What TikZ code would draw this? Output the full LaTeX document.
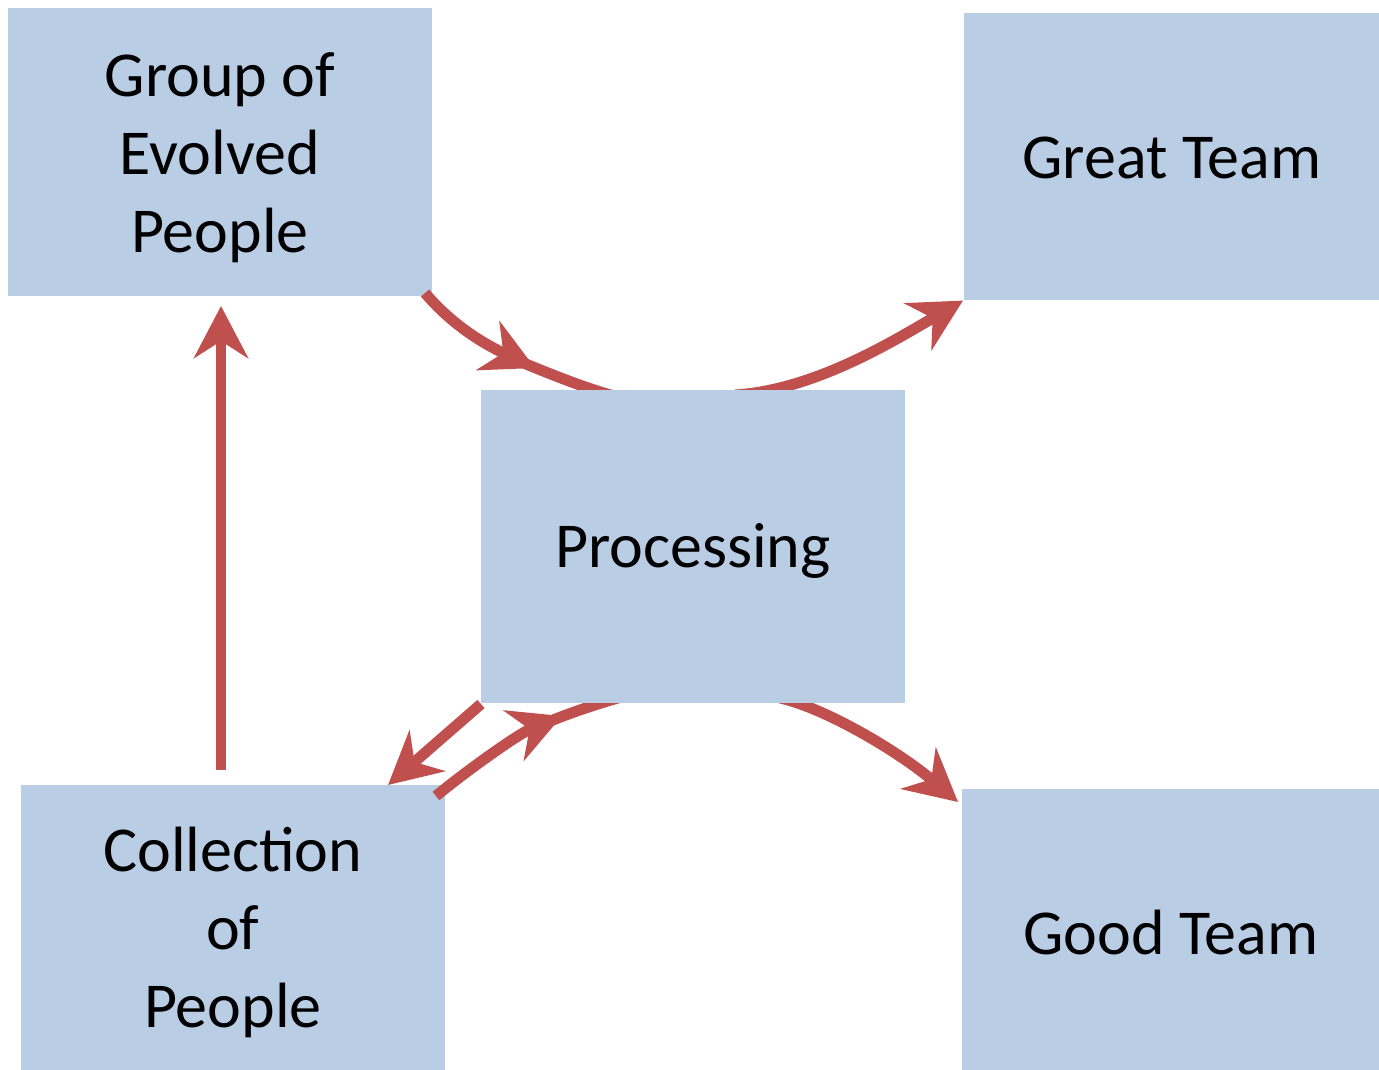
\documentclass[tikz,border=0pt]{standalone}
\usepackage{fontspec}
\setmainfont{Carlito}
\usetikzlibrary{arrows.meta}
\definecolor{boxblue}{HTML}{B9CDE5}
\definecolor{flowred}{HTML}{C0504D}
\pgfdeclarelayer{front}
\pgfsetlayers{main,front}
% invisible strut that pushes a label a little lower in its box
\newcommand\lowerby[1]{\rule{0pt}{#1}}
\begin{document}
\begin{tikzpicture}[x=0.01cm,y=-0.01cm,
  stage/.style={fill=boxblue, draw=none, anchor=north west, inner sep=0pt,
    align=center, font=\fontsize{18.2}{22.2}\selectfont},
  flow/.style={draw=flowred, line width=3.1pt},
  tip/.style={-{Stealth[length=0.52cm,width=0.54cm,inset=0.17cm]}}]
\useasboundingbox (0,0) rectangle (1379,1070);

% stage boxes
\node[stage, minimum width=4.24cm, minimum height=2.88cm] (grp) at (7,7) {\lowerby{0.56cm}Group of\\Evolved\\People};
\node[stage, minimum width=4.16cm, minimum height=2.87cm] (great) at (963,12) {\lowerby{0.44cm}Great Team};
\node[stage, minimum width=4.24cm, minimum height=2.86cm] (coll) at (20,784) {\lowerby{0.54cm}Collection\\of\\People};
\node[stage, minimum width=4.18cm, minimum height=2.82cm] (good) at (961,788) {\lowerby{0.49cm}Good Team};
\begin{pgfonlayer}{front}
\node[stage, minimum width=4.24cm, minimum height=3.13cm] (proc) at (480,389) {\lowerby{0.53cm}Processing};
\end{pgfonlayer}

% connector end points
\coordinate (a1s) at (425,293);
\coordinate (a1t) at (535,368);
\coordinate (a1m) at (521,362);
\coordinate (a1e) at (630,400);
\coordinate (a2s) at (735,395);
\coordinate (a3s) at (780,698);
\coordinate (a3t) at (958,802);
\coordinate (a4s) at (481,704);
\coordinate (a4t) at (388,785);
\coordinate (a5s) at (436,796);
\coordinate (a5t) at (562,716);
\coordinate (a5m) at (548,722);
\coordinate (a5e) at (625,696);
\coordinate (a6s) at (221,770);
\coordinate (a6t) at (221,306);

% group -> processing
\draw[flow, tip] (a1s) .. controls (458,332) and (497,350) .. (a1t);
\draw[flow] (a1m) .. controls (560,378) and (595,392) .. (a1e);
% processing -> great team
\draw[flow, tip] (a2s) .. controls (815,390) and (895,340) .. (great.south west);
% processing -> good team
\draw[flow, tip] (a3s) .. controls (825,708) and (898,751) .. (a3t);
% processing -> collection
\draw[flow, tip] (a4s) -- (a4t);
% collection -> processing
\draw[flow, tip] (a5s) .. controls (470,768) and (520,733) .. (a5t);
\draw[flow] (a5m) .. controls (575,711) and (600,703) .. (a5e);
% collection -> group
\draw[flow, tip] (a6s) -- (a6t);
\end{tikzpicture}
\end{document}
